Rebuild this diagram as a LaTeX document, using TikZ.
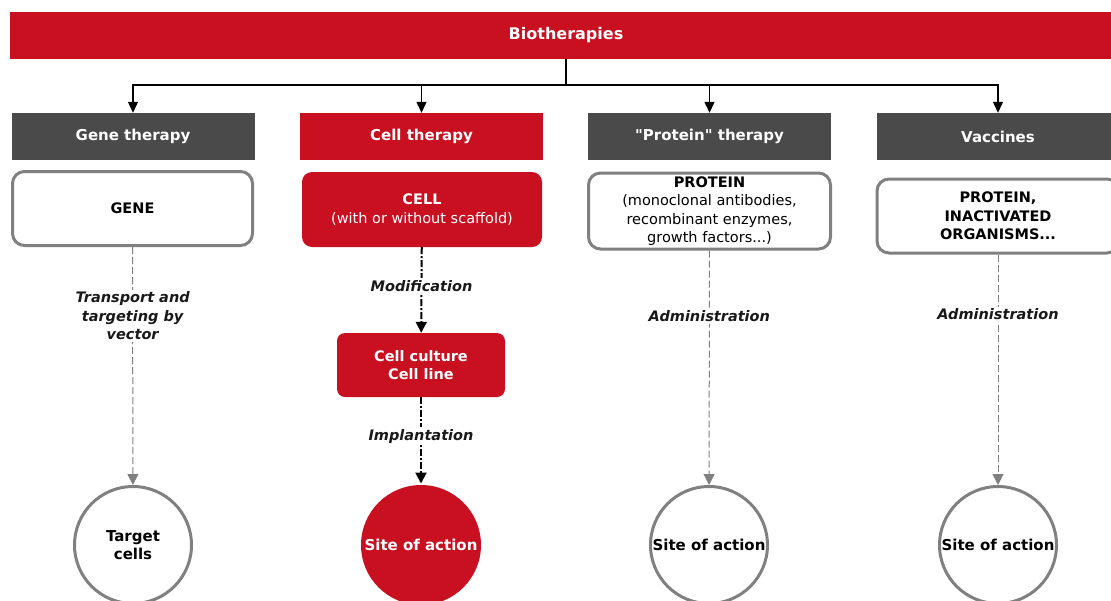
\documentclass[tikz,border=0pt]{standalone}
\usepackage{fontspec}
\setmainfont{DejaVu Sans}
\usetikzlibrary{arrows.meta, positioning}
\definecolor{biored}{RGB}{200,16,32}
\definecolor{headgrey}{RGB}{74,74,74}
\definecolor{rim}{RGB}{128,128,128}
\newcommand{\bodysize}{\fontsize{14.5}{18.5}\selectfont}
\newcommand{\headsize}{\fontsize{15}{18.5}\selectfont}

\begin{document}
\begin{tikzpicture}[x=1pt, y=-1pt,
  bar/.style={minimum height=47pt, inner sep=0pt, font=\headsize\bfseries, text=white},
  itembox/.style={draw=rim, line width=3pt, fill=white, rounded corners=12pt, inner sep=0pt, align=center, font=\bodysize},
  reditem/.style={fill=biored, rounded corners=10pt, inner sep=0pt, align=center, text=white, font=\bodysize},
  endcircle/.style={circle, draw=rim, line width=3pt, minimum size=117pt, inner sep=0pt, align=center, font=\headsize\bfseries},
  lbl/.style={fill=white, text=black!90, inner sep=2pt, align=center, font=\fontsize{14.5}{18.5}\selectfont\bfseries\itshape},
  greyflow/.style={rim, line width=1pt, dash pattern=on 7pt off 3pt, -{Triangle[length=11pt, width=11pt]}},
  cellflow/.style={black, line width=2pt, dash pattern=on 7pt off 2pt on 2pt off 2pt, -{Triangle[length=11pt, width=11pt]}},
  split/.style={black, line width=1.2pt}]
\useasboundingbox (0,0) rectangle (1111,600);

% top bar
\node[bar, fill=biored, minimum width=1112pt, font=\fontsize{16}{18.5}\selectfont\bfseries] (bio) at (566,35) {Biotherapies};
\coordinate (hub) at (566,85);
\draw[split] (hub |- bio.south) -- (hub);

% therapy headers
\node[bar, fill=headgrey, minimum width=243pt] (genehead) at (133,136.5) {Gene therapy};
\node[bar, fill=biored, minimum width=243pt] (cellhead) at (421.5,136.5) {Cell therapy};
\node[bar, fill=headgrey, minimum width=243pt] (prothead) at (709.5,136.5) {\textquotedbl Protein\textquotedbl{} therapy};
\node[bar, fill=headgrey, minimum width=243pt] (vacchead) at (998,136.5) {Vaccines};
\foreach \h in {genehead, cellhead, prothead, vacchead}
  \draw[split, -{Triangle[length=11pt, width=10pt]}] (hub) -| (\h.north);

% what is given
\node[itembox, minimum width=240pt, minimum height=74pt] (gene) at (132.5,208.5) {\bfseries GENE};
\node[reditem, minimum width=240pt, minimum height=75pt] (cell) at (422,209.5) {\bfseries CELL\\(with or without scaffold)};
\node[itembox, inner ysep=2pt, minimum width=242pt, minimum height=76pt] (prot) at (709.5,211) {\bfseries PROTEIN\\(monoclonal antibodies,\\recombinant enzymes,\\growth factors...)};
\node[itembox, minimum width=242pt, minimum height=74pt] (vacc) at (998,216) {\bfseries PROTEIN,\\\bfseries INACTIVATED\\\bfseries ORGANISMS...};
\node[reditem, rounded corners=8pt, minimum width=168pt, minimum height=64pt] (culture) at (421,365) {\bfseries Cell culture\\\bfseries Cell line};

% where it acts
\node[endcircle] (target) at (133,545) {Target\\cells};
\node[endcircle, draw=none, fill=biored, text=white, minimum size=120pt] (site) at (421,545) {Site of action};
\node[endcircle] (protsite) at (709,545) {Site of action};
\node[endcircle] (vaccsite) at (998,545) {Site of action};

% routes
\draw[greyflow] (gene) -- node[lbl, pos=.29] {Transport and\\targeting by\\vector} (target);
\draw[cellflow] (cell) -- node[lbl, pos=.45] {Modification} (culture);
\draw[cellflow] (culture) -- node[lbl, pos=.45] {Implantation} (site);
\draw[greyflow] (prot) -- node[lbl, pos=.28] {Administration} (protsite);
\draw[greyflow] (vacc) -- node[lbl, pos=.26] {Administration} (vaccsite);
\end{tikzpicture}
\end{document}
